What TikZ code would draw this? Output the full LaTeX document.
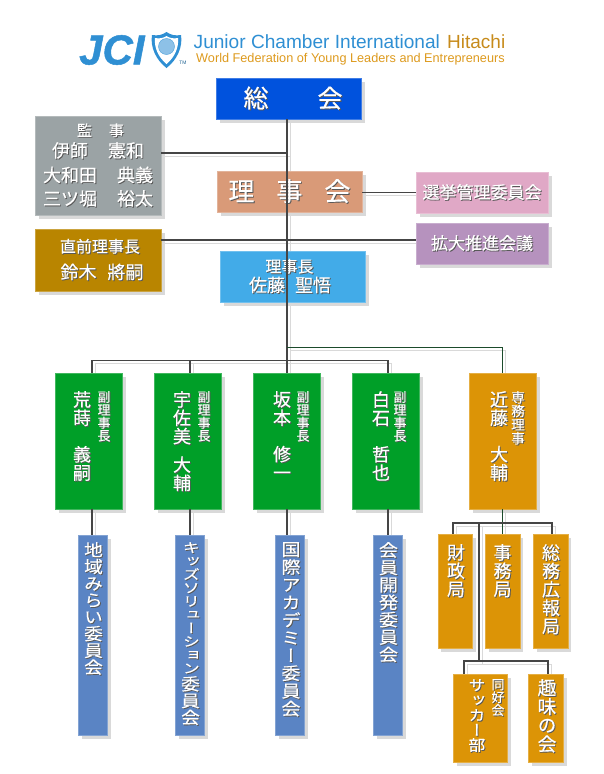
\documentclass[tikz,border=0pt]{standalone}
\usepackage{fontspec}
\setmainfont{Liberation Sans}
\newfontfamily\jcifont[BoldItalicFeatures={FakeBold=1.2}]{Liberation Sans}
\newfontfamily\jpfont[FakeBold=0.3]{Noto Sans CJK JP}
\newfontfamily\tatefont[RawFeature={+vert},FakeBold=0.3]{Noto Sans CJK JP}
\newfontfamily\widefont[RawFeature={+vert},FakeBold=0.3,FakeStretch=1.12]{Noto Sans CJK JP}
\newfontfamily\kanafont[RawFeature={+vert},FakeBold=0.3,FakeStretch=1.28]{Noto Sans CJK JP}
\usetikzlibrary{calc,shadows,backgrounds}
\definecolor{kaiblue}{HTML}{0052DD}
\definecolor{kansagrey}{HTML}{9BA3A5}
\definecolor{chokuzen}{HTML}{B98500}
\definecolor{rijikai}{HTML}{D99A78}
\definecolor{rijicho}{HTML}{42ABE8}
\definecolor{senkyo}{HTML}{E0A8C6}
\definecolor{kakudai}{HTML}{B692BE}
\definecolor{fukugreen}{HTML}{009F28}
\definecolor{kyokuorange}{HTML}{DC9406}
\definecolor{iinblue}{HTML}{5A84C4}
\definecolor{jciblue}{HTML}{2F8FD3}
\definecolor{jciorange}{HTML}{DD9A1E}
\definecolor{wire}{HTML}{454545}
\definecolor{greenwire}{HTML}{1B4B2B}
\definecolor{softshadow}{HTML}{D9D9D9}
% white text with a dark copy behind it
\newcommand{\sh}[1]{\rlap{\kern.9pt\raisebox{-.9pt}{\color{black!65}#1}}#1}
% one column of stacked characters
\newcommand{\tate}[2][18.3pt]{\vbox{\baselineskip=#1\foreach \c in {#2}{\hbox to 1em{\hfil\sh{\c}\hfil}}}}
\newcommand{\jfs}[1]{\fontsize{#1}{#1}\selectfont}
% connector: its soft copy goes behind the boxes
\newcommand{\wire}[2][wire]{\begin{pgfonlayer}{background}\draw[softwire] #2;\end{pgfonlayer}\draw[draw=#1,line width=1.1pt] #2;}

\begin{document}
\begin{tikzpicture}[x=1pt,y=-1pt,
box/.style={inner sep=0pt,outer sep=0pt,draw=#1!75!white,fill=#1,text=white,align=center,font=\jpfont,
  copy shadow={shadow xshift=3.5pt,shadow yshift=-3.5pt,draw=none,fill=softshadow}},
tatetext/.style={inner sep=0pt,anchor=north,text=white,align=center,font=\tatefont\jfs{#1}},
widetext/.style={inner sep=0pt,anchor=north,text=white,align=center,font=\widefont\jfs{#1}},
kanatext/.style={inner sep=0pt,anchor=north,text=white,align=center,font=\kanafont\jfs{#1}},
softwire/.style={draw=softshadow,line width=1pt,transform canvas={shift={(3pt,-3pt)}}}]

\useasboundingbox (0,0) rectangle (603,774);

% Logo
\node (jci) [inner sep=0pt,anchor=west,text=jciblue,font=\jcifont\fontsize{42}{42}\selectfont\bfseries\itshape] at (79,50) {JCI};
\fill[jciblue] (152,35) .. controls (158,36) and (162,35) .. (166.5,32) .. controls (171,35) and (175,36) .. (181,35) .. controls (183,47) and (177,60) .. (166.5,68) .. controls (156,60) and (150,47) .. (152,35) -- cycle;
\fill[white] (155,38) .. controls (160,39) and (163,38) .. (166.5,36) .. controls (170,38) and (173,39) .. (178,38) .. controls (179,47) and (175,57) .. (166.5,64) .. controls (158,57) and (154,47) .. (155,38) -- cycle;
\filldraw[fill=jciblue!55,draw=jciblue!85] (166.5,46.5) circle (8);
\node (tm) [inner sep=0pt,text=jciblue!70!black,font=\fontsize{5}{5}\selectfont] at (183,63) {TM};
\node (jcname) [inner sep=0pt,anchor=west,text=jciblue,font=\fontsize{19.1}{19}\selectfont] at (193.5,42) {Junior Chamber International};
\node (hitachi) [inner sep=0pt,anchor=west,text=jciorange!90!black,font=\fontsize{19}{19}\selectfont] at (447,42) {Hitachi};
\node (jcworld) [inner sep=0pt,anchor=west,text=jciorange,font=\fontsize{12.7}{13}\selectfont] at (196,59) {World Federation of Young Leaders and Entrepreneurs};

% Top boxes
\node (sokai) [box=kaiblue,minimum width=145pt,minimum height=41pt] at (288.5,98.5) {\jfs{25}\hspace*{9pt}\raisebox{-1.5pt}{\sh{総\hspace{49pt}会}}};
\node (kansa) [box=kansagrey,minimum width=126pt,minimum height=99pt] at (98,165.5)
  {\jfs{15}\hspace*{5pt}\sh{監\hspace{17pt}事}\\[3pt]\jfs{18}\sh{伊師\hspace{20pt}憲和}\\[6pt]\jfs{18}\sh{大和田\hspace{20pt}典義}\\[5pt]\jfs{18}\sh{三ツ堀\hspace{20pt}裕太}};
\node (chokuzen) [box=chokuzen,minimum width=126pt,minimum height=62pt] at (98,260)
  {\jfs{16}\hspace*{4pt}\sh{直前理事長}\\[8pt]\jfs{18}\hspace*{8pt}\sh{鈴木\hspace{11pt}將嗣}};
\node (rijikai) [box=rijikai,minimum width=145pt,minimum height=41pt] at (289.5,191.5) {\jfs{26}\sh{理\hspace{22pt}事\hspace{22pt}会}};
\node (rijicho) [box=rijicho,minimum width=145pt,minimum height=51pt] at (292.5,276.5)
  {\jfs{16}\sh{理事長}\hspace*{6pt}\\[1pt]\jfs{18}\sh{佐藤\hspace{10pt}聖悟}\hspace*{5pt}};
\node (senkyo) [box=senkyo,minimum width=132pt,minimum height=41pt] at (482,192.5) {\jfs{17}\sh{選挙管理委員会}};
\node (kakudai) [box=kakudai,minimum width=132pt,minimum height=41pt] at (482,243.5) {\jfs{17}\sh{拡大推進会議}};

% Vice presidents
\node (aramaki) [box=fukugreen,minimum width=67pt,minimum height=136pt] at (88.5,441) {};
\node (usami) [box=fukugreen,minimum width=67pt,minimum height=136pt] at (187.5,441) {};
\node (sakamoto) [box=fukugreen,minimum width=67pt,minimum height=136pt] at (286.5,441) {};
\node (shiraishi) [box=fukugreen,minimum width=67pt,minimum height=136pt] at (385.5,441) {};
\node (kondo) [box=kyokuorange,minimum width=67pt,minimum height=136pt] at (502.5,441) {};

\node (aramakiname) [tatetext=18] at (82,391) {\tate{荒,蒔}\\[18pt]\tate{義,嗣}};
\node (usaminame) [tatetext=18] at (182,391) {\tate{宇,佐,美}\\[10pt]\tate{大,輔}};
\node (sakamotoname) [tatetext=18] at (282,391) {\tate{坂,本}\\[18pt]\tate{修,一}};
\node (shiraishiname) [tatetext=18] at (381,391) {\tate{白,石}\\[18pt]\tate{哲,也}};
\node (kondoname) [tatetext=18] at (499,391) {\tate{近,藤}\\[18pt]\tate{大,輔}};
\foreach \x/\n in {104/a,204/b,303/c,400/d}
  \node (fuku\n) [tatetext=12.9] at (\x,391) {\tate[12.9pt]{副,理,事,長}};
\node (senmu) [tatetext=13.6] at (518,391) {\tate[13.6pt]{専,務,理,事}};

% Committees
\node (chiiki) [box=iinblue,minimum width=29pt,minimum height=200pt] at (92.5,635) {};
\node (kids) [box=iinblue,minimum width=29pt,minimum height=200pt] at (189.5,635) {};
\node (kokusai) [box=iinblue,minimum width=29pt,minimum height=200pt] at (290,635) {};
\node (kaiin) [box=iinblue,minimum width=29pt,minimum height=200pt] at (387.5,635) {};

\node (chiikitext) [widetext=16.7] at (92.5,542) {\tate[16.75pt]{地,域,み,ら,い,委,員,会}};
\node (kidstext) [kanatext=13.4] at (189.5,542) {\tate[13.4pt]{キ,ッ,ズ,ソ,リ,ュ,ー,シ,ョ,ン}};
\node (kidstail) [widetext=16.7] at (189.5,676) {\tate[16.75pt]{委,員,会}};
\node (kokusaitext) [widetext=17] at (290,542) {\tate[17.7pt]{国,際,ア,カ,デ,ミ,ー,委,員,会}};
\node (kaiintext) [widetext=17] at (387.5,542) {\tate[17.4pt]{会,員,開,発,委,員,会}};

% Bureaus
\node (zaisei) [box=kyokuorange,minimum width=34.5pt,minimum height=114pt] at (455,591) {};
\node (jimu) [box=kyokuorange,minimum width=34.5pt,minimum height=114pt] at (502.5,591) {};
\node (somu) [box=kyokuorange,minimum width=34.5pt,minimum height=114pt] at (550.5,591) {};
\node (soccer) [box=kyokuorange,minimum width=54pt,minimum height=88pt] at (480,718) {};
\node (shumi) [box=kyokuorange,minimum width=35pt,minimum height=88pt] at (545.5,718) {};

\node (zaiseitext) [tatetext=18] at (456,544) {\tate{財,政,局}};
\node (jimutext) [tatetext=18] at (502.5,544) {\tate{事,務,局}};
\node (somutext) [tatetext=18] at (551,544) {\tate[18.4pt]{総,務,広,報,局}};
\node (soccertext) [widetext=15] at (476,679) {\tate[15pt]{サ,ッ,カ,ー,部}};
\node (dokotext) [tatetext=12.8] at (498,679) {\tate[12.8pt]{同,好,会}};
\node (shumitext) [tatetext=18.7] at (547,679) {\tate[18.7pt]{趣,味,の,会}};

% Edges
\coordinate (trunk) at (287,153);
\coordinate (chokuzenJoint) at (287,240);
\coordinate (busA) at (92,360.5);
\coordinate (busB) at (190,360.5);
\coordinate (busC) at (287,360.5);
\coordinate (busD) at (388,360.5);
\coordinate (senmuBus) at (287,347.5);
\coordinate (senmuEnd) at (502.5,347.5);
\coordinate (kyokuA) at (453,523);
\coordinate (kyokuC) at (552,523);
\coordinate (kyokuBus) at (479,523);
\coordinate (dokoA) at (464,661);
\coordinate (dokoBus) at (479,661);
\coordinate (dokoB) at (548,661);
\wire{(sokai.south -| trunk) -- (sakamoto.north -| trunk)}
\wire{(kansa.east |- trunk) -- (trunk)}
\wire{(chokuzen.east |- chokuzenJoint) -- (kakudai.west |- chokuzenJoint)}
\wire{(rijikai.east |- senkyo.west) -- (senkyo.west)}
\wire[greenwire]{(senmuBus) -- (senmuEnd) -- (kondo.north)}
\wire{(aramaki.north -| busA) -- (busA) -- (busD) -- (shiraishi.north -| busD)}
\wire{(busB) -- (usami.north -| busB)}
\wire{(aramaki.south -| busA) -- (chiiki.north -| busA)}
\wire{(usami.south -| busB) -- (kids.north -| busB)}
\wire{(sakamoto.south -| busC) -- (kokusai.north -| busC)}
\wire{(shiraishi.south -| busD) -- (kaiin.north -| busD)}
\wire[greenwire]{(kondo.south) -- (jimu.north)}
\wire{(zaisei.north -| kyokuA) -- (kyokuA) -- (kyokuC) -- (somu.north -| kyokuC)}
\wire{(kyokuBus) -- (dokoBus)}
\wire{(soccer.north -| dokoA) -- (dokoA) -- (dokoB) -- (shumi.north -| dokoB)}

\end{tikzpicture}
\end{document}
